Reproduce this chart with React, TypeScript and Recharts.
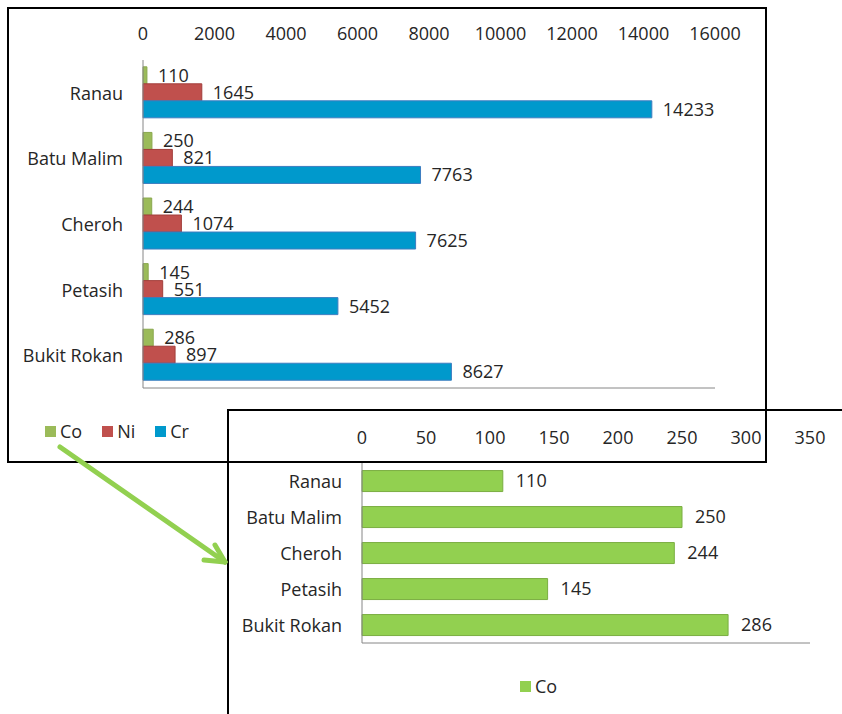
import React from 'react';
import { BarChart, Bar, XAxis, YAxis, LabelList, Legend } from 'recharts';

// Sampling sites and measured concentrations
const sites = ['Ranau', 'Batu Malim', 'Cheroh', 'Petasih', 'Bukit Rokan'];
const coValues = [110, 250, 244, 145, 286];
const niValues = [1645, 821, 1074, 551, 897];
const crValues = [14233, 7763, 7625, 5452, 8627];

const seriesOrder = ['Co', 'Ni', 'Cr'];
const mainTicks = [0, 2000, 4000, 6000, 8000, 10000, 12000, 14000, 16000];
const coTicks = [0, 50, 100, 150, 200, 250, 300, 350];

const mainData = sites.map((name, i) => ({
  name,
  Co: coValues[i],
  Ni: niValues[i],
  Cr: crValues[i],
}));
const coData = sites.map((name, i) => ({ name, Co: coValues[i] }));

const FONT = "'Open Sans', sans-serif";
const TEXT = '#262626';
const AXIS = '#868686';

const COLORS = {
  Co: '#9BBB59',
  Ni: '#C0504D',
  Cr: '#0099CC',
  CoBright: '#92D050',
};

const makeTopTick = (yPos: number) => (props: any) => {
  const { x, payload } = props;
  return (
    <text x={x} y={yPos} textAnchor="middle" dominantBaseline="central"
      fontFamily={FONT} fontSize={18} fill={TEXT}>
      {payload.value}
    </text>
  );
};

const makeCatTick = (xPos: number) => (props: any) => {
  const { y, payload } = props;
  return (
    <text x={xPos} y={y} textAnchor="end" dominantBaseline="central"
      fontFamily={FONT} fontSize={18} fill={TEXT}>
      {payload.value}
    </text>
  );
};

const legendContent = (props: any) => {
  const items = [...(props.payload || [])].sort(
    (a: any, b: any) => seriesOrder.indexOf(a.value) - seriesOrder.indexOf(b.value)
  );
  return (
    <div style={{ display: 'flex', alignItems: 'center', fontFamily: FONT, fontSize: 18, color: TEXT, lineHeight: '22px' }}>
      {items.map((entry: any) => (
        <div key={entry.value} style={{ display: 'flex', alignItems: 'center', marginRight: 20 }}>
          <span style={{
            display: 'inline-block', width: 11, height: 11, background: entry.color,
            marginRight: 4,
          }} />
          <span>{entry.value}</span>
        </div>
      ))}
    </div>
  );
};

const labelStyle = { fontFamily: FONT, fontSize: 18, fill: TEXT };

export default function App() {
  return (
    <div style={{ position: 'absolute', left: 0, top: 0, width: 842, height: 714, overflow: 'hidden', background: '#fff' }}>
      {/* Frame of the cobalt-only chart */}
      <div style={{ position: 'absolute', left: 227, top: 409, width: 700, height: 400, border: '2px solid #000', boxSizing: 'border-box' }} />

      {/* Cobalt-only chart */}
      <div style={{ position: 'absolute', left: 228, top: 410 }}>
        <BarChart width={614} height={304} data={coData} layout="vertical"
          margin={{ top: 23, right: 32, bottom: 48, left: 0 }} barCategoryGap="21%">
          <XAxis type="number" orientation="top" domain={[0, 350]} ticks={coTicks} interval={0}
            axisLine={false} tickLine={false} height={30} tick={makeTopTick(27)} />
          <XAxis type="number" xAxisId="base" orientation="bottom" domain={[0, 350]}
            height={1} tick={false} tickLine={false} axisLine={{ stroke: AXIS, strokeWidth: 1 }} />
          <YAxis type="category" dataKey="name" width={134} axisLine={{ stroke: AXIS }}
            tickLine={false} tick={makeCatTick(114)} interval={0} />
          <Legend layout="horizontal" verticalAlign="bottom" align="left"
            wrapperStyle={{ left: 292, top: 265, width: 100, height: 22 }} content={legendContent} />
          <Bar dataKey="Co" fill={COLORS.CoBright} stroke="#7AAE42" strokeWidth={1} isAnimationActive={false}>
            <LabelList dataKey="Co" position="right" offset={13} style={labelStyle} />
          </Bar>
        </BarChart>
      </div>

      {/* Frame of the Co / Ni / Cr chart */}
      <div style={{ position: 'absolute', left: 7, top: 7, width: 760, height: 456, border: '2px solid #000', boxSizing: 'border-box' }} />

      {/* Co / Ni / Cr chart */}
      <div style={{ position: 'absolute', left: 8, top: 8 }}>
        <BarChart width={758} height={454} data={mainData} layout="vertical"
          margin={{ top: 22, right: 51, bottom: 51, left: 0 }} barCategoryGap="10.4%" barGap={0}>
          <XAxis type="number" orientation="top" domain={[0, 16000]} ticks={mainTicks} interval={0}
            axisLine={false} tickLine={false} height={30} tick={makeTopTick(25)} />
          <XAxis type="number" xAxisId="base" orientation="bottom" domain={[0, 16000]}
            height={1} tick={false} tickLine={false} axisLine={{ stroke: AXIS, strokeWidth: 1 }} />
          <YAxis type="category" dataKey="name" width={135} axisLine={{ stroke: AXIS }}
            tickLine={false} tick={makeCatTick(115)} interval={0} />
          <Legend layout="horizontal" verticalAlign="bottom" align="left"
            wrapperStyle={{ left: 37, top: 412, width: 200, height: 22 }} content={legendContent} />
          <Bar dataKey="Co" fill={COLORS.Co} stroke="#8AA84E" strokeWidth={1} isAnimationActive={false}>
            <LabelList dataKey="Co" position="right" offset={11} style={labelStyle} />
          </Bar>
          <Bar dataKey="Ni" fill={COLORS.Ni} stroke="#A23E3B" strokeWidth={1} isAnimationActive={false}>
            <LabelList dataKey="Ni" position="right" offset={11} style={labelStyle} />
          </Bar>
          <Bar dataKey="Cr" fill={COLORS.Cr} stroke="#3C7DC0" strokeWidth={1} isAnimationActive={false}>
            <LabelList dataKey="Cr" position="right" offset={11} style={labelStyle} />
          </Bar>
        </BarChart>
      </div>

      {/* Pointer from the Co legend entry to the cobalt-only chart */}
      <svg width={842} height={714} style={{ position: 'absolute', left: 0, top: 0, pointerEvents: 'none' }}>
        <g stroke="#92D050" strokeWidth={5} strokeLinecap="round" fill="none">
          <line x1={60} y1={447} x2={225} y2={562} />
          <line x1={225} y1={562} x2={204} y2={560} />
          <line x1={225} y1={562} x2={215} y2={545} />
        </g>
      </svg>
    </div>
  );
}
